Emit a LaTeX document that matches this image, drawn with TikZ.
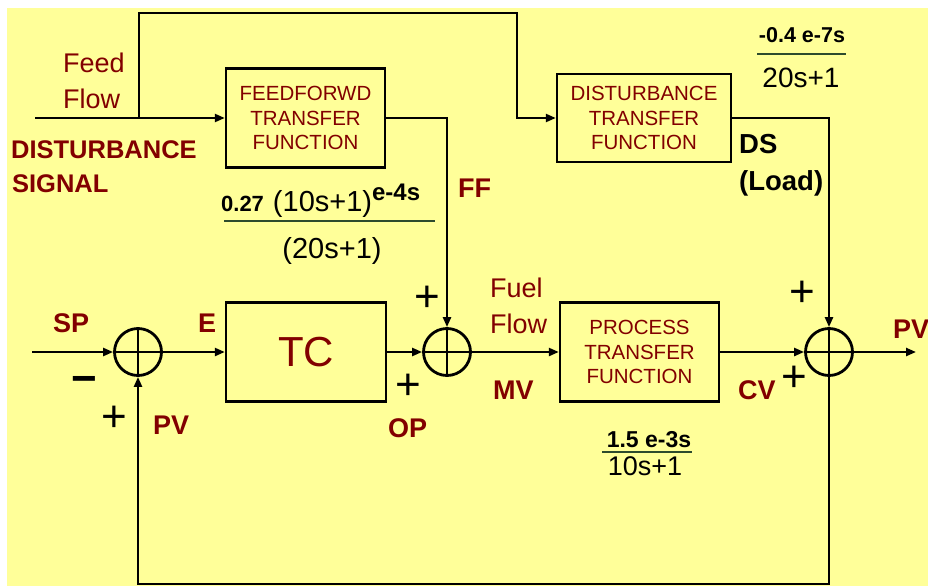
\documentclass[tikz,border=0pt]{standalone}
\usepackage{fontspec}
\setmainfont{Liberation Sans}
\usetikzlibrary{arrows.meta}
\definecolor{bg}{RGB}{255,255,153}
\definecolor{dred}{RGB}{130,0,0}
\definecolor{fline}{RGB}{45,75,45}
\begin{document}
\begin{tikzpicture}[x=1pt,y=-1pt, line width=2.3pt,
  arr/.style={-{Triangle[length=10pt,width=8pt]}},
  blk/.style={draw, line width=2.4pt, inner sep=0pt, align=center, text=dred, font=\fontsize{20.5}{24.5}\selectfont},
  sumj/.style={circle, draw, line width=2.8pt, minimum size=47pt, inner sep=0pt,
    path picture={\draw[line width=2.3pt] (path picture bounding box.north) -- (path picture bounding box.south)
      (path picture bounding box.west) -- (path picture bounding box.east);}},
  rlab/.style={text=dred, inner sep=0pt, anchor=base west, font=\fontsize{27}{30}\selectfont\bfseries},
  nlab/.style={text=dred, inner sep=0pt, anchor=base west, font=\fontsize{27}{30}\selectfont},
  klab/.style={text=black, inner sep=0pt, anchor=base west, font=\fontsize{27.5}{30}\selectfont\bfseries},
  sgn/.style={inner sep=0pt, font=\fontsize{44}{44}\selectfont},
  fnum/.style={inner sep=0pt, anchor=base, font=\fontsize{22}{26}\selectfont\bfseries},
  fden/.style={inner sep=0pt, anchor=base, font=\fontsize{28}{32}\selectfont},
  fl/.style={line width=1.3pt, draw=fline}
]
\useasboundingbox (0,0) rectangle (928,586);
\fill[white] (0,0) rectangle (928,586);
\fill[bg] (7,8) rectangle (928,586);

% blocks
\node[blk, minimum width=159pt, minimum height=99pt] (ff) at (305.5,118) {FEEDFORWD\\TRANSFER\\FUNCTION};
\node[blk, minimum width=174pt, minimum height=88pt] (ds) at (644,118) {DISTURBANCE\\TRANSFER\\FUNCTION};
\node[blk, minimum width=160pt, minimum height=99pt, font=\fontsize{42}{46}\selectfont] (tc) at (306,352) {TC};
\node[blk, minimum width=159pt, minimum height=99pt] (pr) at (639.5,352) {PROCESS\\TRANSFER\\FUNCTION};

% summing junctions
\node[sumj] (s1) at (138,352) {};
\node[sumj] (s2) at (447,352) {};
\node[sumj] (s3) at (829,352) {};

% coordinates
\coordinate (in) at (35,118);
\coordinate (j1) at (139,118);
\coordinate (t1) at (139,13);
\coordinate (t2) at (517,13);
\coordinate (t3) at (517,118);
\coordinate (spin) at (32,352);
\coordinate (pvout) at (916,352);
\coordinate (fb1) at (829,584);
\coordinate (fb2) at (138,584);

% connectors
\draw[arr] (in) -- (ff.west);
\draw[arr] (j1) -- (t1) -- (t2) -- (t3) -- (ds.west);
\draw[arr] (ff.east) -| (s2.north);
\draw[arr] (ds.east) -| (s3.north);
\draw[arr] (spin) -- (s1.west);
\draw[arr] (s1.east) -- (tc.west);
\draw[arr] (tc.east) -- (s2.west);
\draw[arr] (s2.east) -- (pr.west);
\draw[arr] (pr.east) -- (s3.west);
\draw[arr] (s3.east) -- (pvout);
\draw[arr] (s3.south) -- (fb1) -- (fb2) -- (s1.south);

% labels
\node[nlab] (feed) at (62,73) {Feed};
\node[nlab] (flow1) at (62,108) {Flow};
\node[rlab, font=\fontsize{25.5}{30}\selectfont\bfseries] (dist) at (10,158) {DISTURBANCE};
\node[rlab, font=\fontsize{25.5}{30}\selectfont\bfseries] (sig) at (11,192) {SIGNAL};
\node[rlab] (ffl) at (457,197) {FF};
\node[klab] (dsl) at (738,153) {DS};
\node[klab] (load) at (738,190) {(Load)};
\node[rlab] (spl) at (52,332) {SP};
\node[rlab] (el) at (197,332) {E};
\node[rlab] (pvl) at (152,434) {PV};
\node[rlab] (opl) at (387,437) {OP};
\node[nlab] (fuel) at (489,297) {Fuel};
\node[nlab] (flow2) at (489,333) {Flow};
\node[rlab] (mvl) at (492,399) {MV};
\node[rlab] (cvl) at (737,399) {CV};
\node[rlab] (pvr) at (892,338) {PV};

% signs
\node[sgn] (m1) at (84,385) {\fontsize{44}{44}\selectfont\bfseries −};
\node[sgn] (p1) at (114,419) {+};
\node[sgn] (p2) at (427,299) {+};
\node[sgn] (p3) at (408,387) {+};
\node[sgn] (p4) at (802,294) {+};
\node[sgn] (p5) at (794,379) {+};

% transfer functions
\node[inner sep=0pt, anchor=base west] (ffnum) at (220,211) {{\fontsize{22}{26}\selectfont\bfseries 0.27}\hspace{9pt}{\fontsize{29}{34}\selectfont (10s+1)}\raisebox{11pt}{\fontsize{24}{28}\selectfont\bfseries e-4s}};
\coordinate (ffa) at (224,221);
\coordinate (ffb) at (435,221);
\draw[fl] (ffa) -- (ffb);
\node[inner sep=0pt, anchor=base, font=\fontsize{29}{34}\selectfont] (ffden) at (332,258) {(20s+1)};

\node[fnum, font=\fontsize{21.5}{26}\selectfont\bfseries] (dsnum) at (802,43) {-0.4 e-7s};
\coordinate (dsa) at (757,54);
\coordinate (dsb) at (846,54);
\draw[fl] (dsa) -- (dsb);
\node[fden] (dsden) at (801,87) {20s+1};

\node[fnum, font=\fontsize{23}{26}\selectfont\bfseries] (prnum) at (649,447) {1.5 e-3s};
\coordinate (pra) at (602,452);
\coordinate (prb) at (692,452);
\draw[fl] (pra) -- (prb);
\node[fden, font=\fontsize{27}{32}\selectfont] (prden) at (645,475) {10s+1};
\end{tikzpicture}
\end{document}
